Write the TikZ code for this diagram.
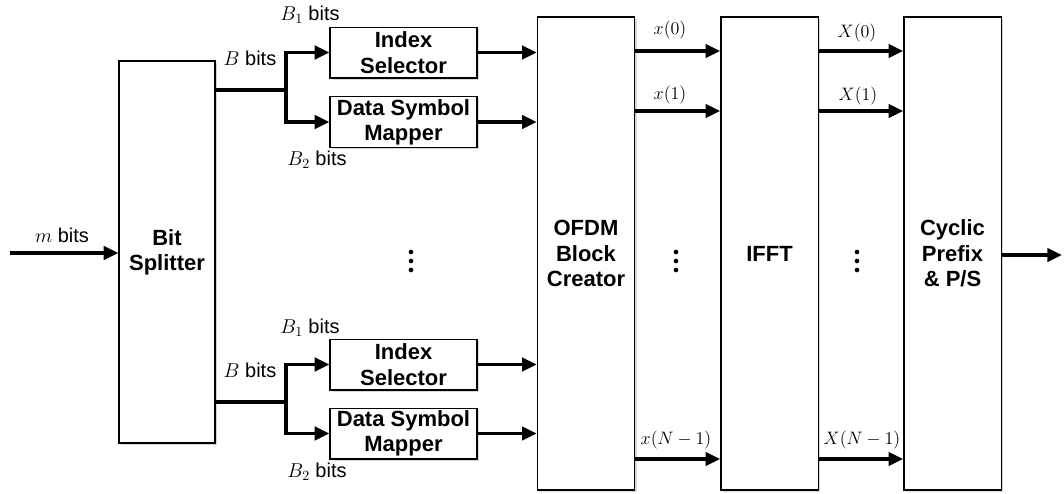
\documentclass[tikz,border=0pt]{standalone}
\usepackage{fix-cm}
\usepackage[no-math]{fontspec}
\setmainfont{Liberation Sans}
\usetikzlibrary{arrows.meta,shadows}
\begin{document}
\begin{tikzpicture}[x=0.75pt,y=-0.75pt,
  box/.style={draw=black, line width=1pt, fill=white, align=center, inner sep=0pt,
    font=\bfseries\fontsize{16.5}{19}\selectfont,
    drop shadow={shadow xshift=1.5pt, shadow yshift=-1.5pt, fill=gray!60, opacity=0.5}},
  small/.style={box, minimum width=110.25pt, minimum height=38pt},
  big/.style={box, minimum width=73pt, minimum height=354.75pt},
  arr/.style={line width=2.5pt, -{Triangle[length=11pt,width=10pt]}},
  wire/.style={line width=2.5pt},
  lbl/.style={font=\fontsize{15}{18}\selectfont, inner sep=0pt},
  mlbl/.style={font=\fontsize{13.5}{16}\selectfont, inner sep=0pt},
  dot/.style={circle, fill=black, inner sep=0pt, minimum size=3.5pt}]
\useasboundingbox (0,0) rectangle (1064,493);
% main blocks
\node[box, minimum width=72pt, minimum height=286.5pt] (bs) at (167,252) {Bit\\Splitter};
\node[big] (ofdm) at (586,253.5) {OFDM\\Block\\Creator};
\node[big] (ifft) at (769.5,253.5) {IFFT};
\node[big] (cp) at (952.5,253.5) {Cyclic\\Prefix\\\& P/S};
\node[small] (is1) at (403.5,52.5) {Index\\Selector};
\node[small] (dsm1) at (403.5,122) {Data Symbol\\Mapper};
\node[small] (is2) at (403.5,364.5) {Index\\Selector};
\node[small] (dsm2) at (403.5,433.5) {Data Symbol\\Mapper};
% input / output
\coordinate (in) at (10,253);
\coordinate (out) at (1062,255);
\draw[arr] (in) -- (in -| bs.west);
\draw[arr] (cp.east |- out) -- (out);
\node[lbl] (lm) at (62,235) {$m$ bits};
% splitter branches
\coordinate (j1) at (286,90);
\coordinate (j2) at (286,402);
\draw[wire] (bs.east |- j1) -- (j1);
\draw[arr] (j1) |- (is1.west);
\draw[arr] (j1) |- (dsm1.west);
\draw[wire] (bs.east |- j2) -- (j2);
\draw[arr] (j2) |- (is2.west);
\draw[arr] (j2) |- (dsm2.west);
\node[lbl] (lb1) at (250,58) {$B$ bits};
\node[lbl] (lb2) at (250,370) {$B$ bits};
\node[lbl] (lb11) at (310,15) {$B_1$ bits};
\node[lbl] (lb12) at (317,160) {$B_2$ bits};
\node[lbl] (lb21) at (310,328) {$B_1$ bits};
\node[lbl] (lb22) at (317,472) {$B_2$ bits};
% into OFDM
\draw[arr] (is1.east) -- (is1.east -| ofdm.west);
\draw[arr] (dsm1.east) -- (dsm1.east -| ofdm.west);
\draw[arr] (is2.east) -- (is2.east -| ofdm.west);
\draw[arr] (dsm2.east) -- (dsm2.east -| ofdm.west);
% OFDM -> IFFT -> CP
\coordinate (y0) at (0,51);
\coordinate (y1) at (0,111);
\coordinate (yn) at (0,459);
\draw[arr] (ofdm.east |- y0) -- (ifft.west |- y0);
\draw[arr] (ofdm.east |- y1) -- (ifft.west |- y1);
\draw[arr] (ofdm.east |- yn) -- (ifft.west |- yn);
\draw[arr] (ifft.east |- y0) -- (cp.west |- y0);
\draw[arr] (ifft.east |- y1) -- (cp.west |- y1);
\draw[arr] (ifft.east |- yn) -- (cp.west |- yn);
\node[mlbl] (x0) at (670,30) {$x(0)$};
\node[mlbl] (x1) at (670,95) {$x(1)$};
\node[mlbl] (xn) at (676,440) {$x(N-1)$};
\node[mlbl] (X0) at (857,33) {$X(0)$};
\node[mlbl] (X1) at (858,96) {$X(1)$};
\node[mlbl] (Xn) at (862,440) {$X(N-1)$};
% vertical dots
\foreach \x/\n in {411/a,676/b,857/c}{
  \node[dot] (d1\n) at (\x,252) {};
  \node[dot] (d2\n) at (\x,261) {};
  \node[dot] (d3\n) at (\x,270) {};
}
\end{tikzpicture}
\end{document}
